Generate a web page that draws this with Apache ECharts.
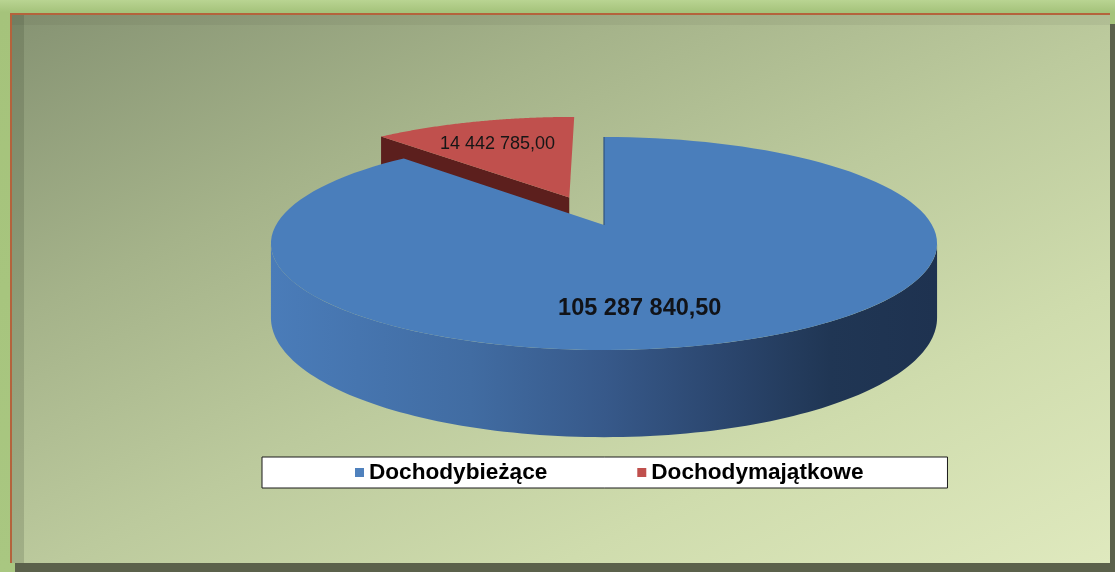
<!DOCTYPE html>
<html>
<head>
<meta charset="utf-8">
<script src="https://cdn.jsdelivr.net/npm/echarts@6/dist/echarts.min.js"></script>
<style>
  html, body { margin:0; padding:0; width:1115px; height:572px; overflow:hidden; }
  body { background: linear-gradient(180deg, #b9d492 0px, #a5c37b 12px, #a9c781 100%); position:relative; }
  #frame {
    position:absolute; left:10px; top:13px; width:1100px; height:550px; box-sizing:border-box;
    border-top:2px solid #b4633c; border-left:2px solid #b4633c;
    background: linear-gradient(to bottom right, #869373 0%, #a5b38a 28%, #bcca9d 52%, #cfdcad 75%, #dfe9be 100%);
    box-shadow: 5px 11px 0 #5b614b, inset 12px 0 0 rgba(50,60,38,0.18), inset 0 10px 0 rgba(50,60,38,0.07);
  }
  #chart { position:absolute; left:0; top:0; width:1115px; height:572px; }
</style>
</head>
<body>
<div id="frame"></div>
<div id="chart"></div>
<script>
// ---- data ----
const categories = ['Dochodybieżące', 'Dochodymajątkowe'];
const values = [105287840.50, 14442785.00];

// ---- styles ----
const topColors = ['#4a7ebb', '#c0504d'];
const legendColors = ['#4f81bd', '#c0504d'];
const radialFaceColors = ['#3a639a', '#5c1f1d'];
const explodeBy = [0, 0.3];
const labelStyle = [
  { r: 0.7, dx: -60, dy: 8, font: 'bold 23.5px "Liberation Sans", Arial, sans-serif', fill: '#111318' },
  { r: 0.7, dx: -2, dy: 2, font: '18px "Liberation Sans", Arial, sans-serif', fill: '#161616' }
];
// projection of the tilted disc (center, half width, half depth, perspective, thickness)
const G = { cx: 604, cy: 225, A: 328, B: 103.3, k: 0.1737, D: 72 };

function fmt(v) {
  const parts = v.toFixed(2).split('.');
  return parts[0].replace(/\B(?=(\d{3})+(?!\d))/g, ' ') + ',' + parts[1];
}

function proj(X, Z, h) {
  const w = 1 + G.k * Z;
  return [G.cx + G.A * X / w, G.cy - G.B * Z / w + h * G.D / w];
}

const total = values.reduce((a, b) => a + b, 0);
let acc = 0;
const spans = values.map(v => { const s = acc / total * 360; acc += v; return [s, acc / total * 360]; });

const silA = Math.acos(-G.k) * 180 / Math.PI;   // front silhouette angles
const silB = 360 - silA;

function sideFill(i) {
  if (i === 0) {
    return new echarts.graphic.LinearGradient(0, 0, 1, 0, [
      { offset: 0, color: '#4a7cb9' },
      { offset: 0.3, color: '#416ca2' },
      { offset: 0.5, color: '#37598a' },
      { offset: 0.68, color: '#2b466e' },
      { offset: 0.84, color: '#203654' },
      { offset: 1, color: '#1e3250' }
    ]);
  }
  return '#6e2624';
}

function renderSlice(i, t0, t1, v) {
  const N = 120;
  const ex = explodeBy[i];
  const tm = (t0 + t1) / 2 * Math.PI / 180;
  const ox = ex * Math.sin(tm), oz = ex * Math.cos(tm);
  const pt = (t, r, h) => {
    const a = t * Math.PI / 180;
    return proj(ox + r * Math.sin(a), oz + r * Math.cos(a), h);
  };
  const children = [];
  // radial faces
  const face = (t) => [pt(t, 0, 0), pt(t, 1, 0), pt(t, 1, 1), pt(t, 0, 1)];
  if (Math.sin(t0 * Math.PI / 180) < -0.01) {
    children.push({ type: 'polygon', shape: { points: face(t0) }, style: { fill: radialFaceColors[i] }, silent: true });
  }
  if (Math.sin(t1 * Math.PI / 180) > 0.01) {
    children.push({ type: 'polygon', shape: { points: face(t1) }, style: { fill: radialFaceColors[i] }, silent: true });
  }
  // outer side wall (front part)
  const s0 = Math.max(t0, silA), s1 = Math.min(t1, silB);
  if (s1 > s0) {
    const up = [], down = [];
    for (let j = 0; j <= N; j++) {
      const t = s0 + (s1 - s0) * j / N;
      up.push(pt(t, 1, 0));
      down.push(pt(t, 1, 1));
    }
    children.push({ type: 'polygon', shape: { points: up.concat(down.reverse()) }, style: { fill: sideFill(i) }, silent: true });
  }
  // top face
  const top = [pt(0, 0, 0)];
  for (let j = 0; j <= N; j++) top.push(pt(t0 + (t1 - t0) * j / N, 1, 0));
  children.push({ type: 'polygon', shape: { points: top }, style: { fill: topColors[i] }, silent: true });
  // thin shadow line along the 12 o'clock edge of the main slice
  if (i === 0) {
    children.push({ type: 'line', shape: { x1: pt(t0, 0, 0)[0], y1: pt(t0, 0, 0)[1], x2: pt(t0, 1, 0)[0], y2: pt(t0, 1, 0)[1] },
      style: { stroke: '#2f5280', lineWidth: 1.2 }, silent: true });
  }
  // label
  const L = labelStyle[i];
  const lp = pt((t0 + t1) / 2, L.r, 0);
  children.push({
    type: 'text', z2: 20, silent: true,
    style: { text: fmt(v), x: lp[0] + L.dx, y: lp[1] + L.dy, align: 'center', verticalAlign: 'middle', font: L.font, fill: L.fill }
  });
  return { type: 'group', children };
}

const seriesList = categories.map((name, i) => ({
  type: 'custom',
  name,
  coordinateSystem: 'none',
  z: i === 0 ? 3 : 2,
  itemStyle: { color: legendColors[i] },
  data: [[spans[i][0], spans[i][1], values[i]]],
  renderItem: (params, api) => renderSlice(i, api.value(0), api.value(1), api.value(2))
}));

const chart = echarts.init(document.getElementById('chart'), null, { renderer: 'canvas' });
chart.setOption({
  animation: false,
  backgroundColor: 'transparent',
  legend: {
    data: categories,
    left: 262, top: 457,
    orient: 'horizontal',
    icon: 'rect', itemWidth: 9, itemHeight: 9, itemGap: 90,
    padding: [4, 84, 4, 93],
    backgroundColor: '#ffffff', borderColor: '#1a1a1a', borderWidth: 1,
    selectedMode: false,
    textStyle: { fontFamily: '"Liberation Sans", Arial, sans-serif', fontWeight: 'bold', fontSize: 22.6, color: '#000' }
  },
  series: [seriesList[1], seriesList[0]]
});
</script>
</body>
</html>
